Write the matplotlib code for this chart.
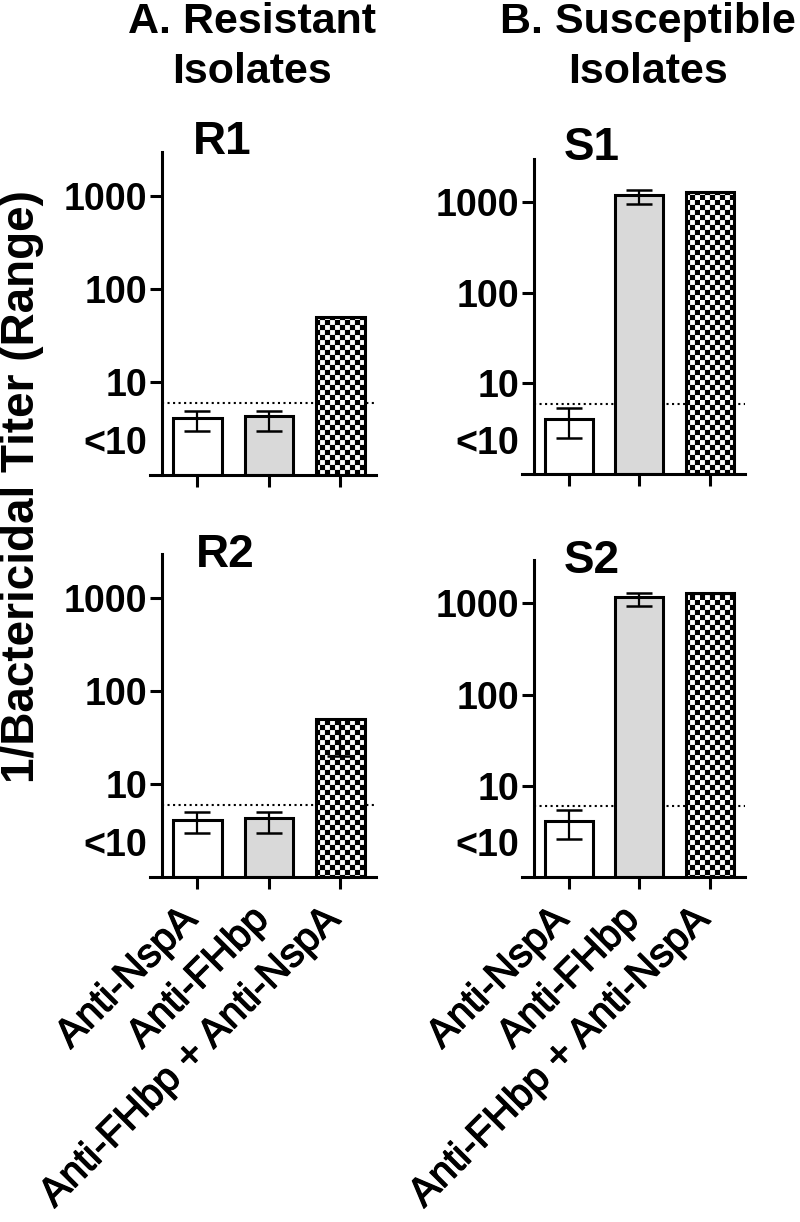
import numpy as np
import matplotlib
matplotlib.use('Agg')
import matplotlib.pyplot as plt
import matplotlib.hatch as mhatch
import matplotlib.patheffects as pe
from matplotlib.path import Path
from matplotlib.transforms import ScaledTranslation

# ---- data (titer, low and high end of the range) ----
groups = ['Anti-NspA', 'Anti-FHbp', 'Anti-FHbp + Anti-NspA']

r1_titer = [4.1, 4.3, 50]
r1_low = [2.95, 2.95, 50]
r1_high = [4.9, 4.9, 50]

s1_titer = [4.0, 1200, 1300]
s1_low = [2.5, 950, 1300]
s1_high = [5.4, 1380, 1300]

r2_titer = [4.1, 4.3, 50]
r2_low = [3.0, 3.0, 20]
r2_high = [5.0, 5.0, 50]

s2_titer = [4.1, 1170, 1300]
s2_low = [2.6, 950, 1300]
s2_high = [5.4, 1320, 1300]

detection_limit = 6
ytick_vals = [10, 100, 1000]
ytick_text = ['10', '100', '1000']
below_limit_pos = 2.4
below_limit_text = '<10'


# checkerboard fill for the combination bar, used through the '.' hatch
class CheckerHatch(mhatch.HatchPatternBase):
    def __init__(self, hatch, density):
        self.n = 20 if hatch.count('.') else 0
        self.num_vertices = (self.n * self.n // 2) * 5

    def set_vertices_and_codes(self, vertices, codes):
        n = self.n
        s = 1.0 / n
        k = 0
        for i in range(n):
            for j in range(n):
                if (i + j) % 2 == 0:
                    x0, y0 = i * s, j * s
                    vertices[k:k + 5] = [(x0, y0), (x0 + s, y0), (x0 + s, y0 + s),
                                         (x0, y0 + s), (x0, y0)]
                    codes[k:k + 5] = [Path.MOVETO, Path.LINETO, Path.LINETO,
                                      Path.LINETO, Path.CLOSEPOLY]
                    k += 5


mhatch._hatch_types = [CheckerHatch if t is mhatch.SmallFilledCircles else t
                       for t in mhatch._hatch_types]

plt.rcParams['font.family'] = ['Liberation Sans', 'DejaVu Sans']
plt.rcParams['font.weight'] = 'bold'
plt.rcParams['hatch.linewidth'] = 0.1

W, H = 800, 1222
fig = plt.figure(figsize=(W / 100, H / 100), dpi=100)

fills = ['white', '#d9d9d9', 'white']
hatches = [None, None, '.']
xlo, xhi = -0.665, 2.5
spine_x = -0.5


def rect(left, top, width, bottom):
    return [left / W, 1 - bottom / H, width / W, (bottom - top) / H]


def panel(pos, titer, low, high, name, name_xy, show_labels):
    ax = fig.add_axes(pos)
    x = np.arange(len(groups))
    bars = ax.bar(x, np.array(titer) - 1, bottom=1, width=0.68, color=fills,
                  edgecolor='black', linewidth=2.2, zorder=2)
    for b, h in zip(bars, hatches):
        if h:
            b.set_hatch(h)
    yerr = [np.array(titer) - np.array(low), np.array(high) - np.array(titer)]
    ax.errorbar(x, titer, yerr=yerr, fmt='none', ecolor='black', elinewidth=1.6,
                capsize=9.5, capthick=1.8, zorder=3)
    frac = (spine_x - xlo) / (xhi - xlo)
    ax.axhline(detection_limit, xmin=frac, xmax=1, color='black', ls=':', lw=1.5, zorder=1)

    ax.set_yscale('log')
    ax.set_ylim(1, 3000)
    ax.set_xlim(xlo, xhi)
    ax.spines['top'].set_visible(False)
    ax.spines['right'].set_visible(False)
    ax.spines['left'].set_position(('data', spine_x))
    for sp in ['left', 'bottom']:
        ax.spines[sp].set_linewidth(2.2)

    ax.set_yticks(ytick_vals, ytick_text)
    ax.set_yticks([below_limit_pos], [below_limit_text], minor=True)
    ax.tick_params(axis='y', which='major', length=8.6, width=2.2, pad=2, labelsize=27)
    ax.tick_params(axis='y', which='minor', length=0, pad=10.6, labelsize=27)
    ax.tick_params(axis='x', length=8.6, width=2.2, pad=8, labelsize=29)
    if show_labels:
        ax.set_xticks(x, groups, rotation=45, ha='right', fontweight='normal')
        off = ScaledTranslation(5 / 72, 0, fig.dpi_scale_trans)
        for lbl in ax.get_xticklabels():
            lbl.set_transform(lbl.get_transform() + off)
            lbl.set_path_effects([pe.Stroke(linewidth=0.9, foreground='black'), pe.Normal()])
    else:
        ax.set_xticks(x, [])
    fig.text(name_xy[0] / W, 1 - name_xy[1] / H, name, fontsize=33, fontweight='bold',
             ha='center', va='baseline')
    return ax


panel(rect(150, 152, 226, 475), r1_titer, r1_low, r1_high, 'R1', (222, 154), False)
panel(rect(522, 159, 223, 474), s1_titer, s1_low, s1_high, 'S1', (592, 160), False)
panel(rect(150, 554, 226, 877), r2_titer, r2_low, r2_high, 'R2', (225, 567), True)
panel(rect(522, 560, 223, 877), s2_titer, s2_low, s2_high, 'S2', (592, 573), True)

for cx, line1 in [(252, 'A. Resistant'), (648, 'B. Susceptible')]:
    fig.text(cx / W, 1 - 33 / H, line1, fontsize=31, fontweight='bold', ha='center', va='baseline')
    fig.text(cx / W, 1 - 83 / H, 'Isolates', fontsize=31, fontweight='bold', ha='center', va='baseline')

fig.text(22 / W, 1 - 487 / H, '1/Bactericidal Titer (Range)', rotation=90, fontsize=33,
         fontweight='bold', ha='center', va='center')

fig.savefig('out.png', dpi=100)
